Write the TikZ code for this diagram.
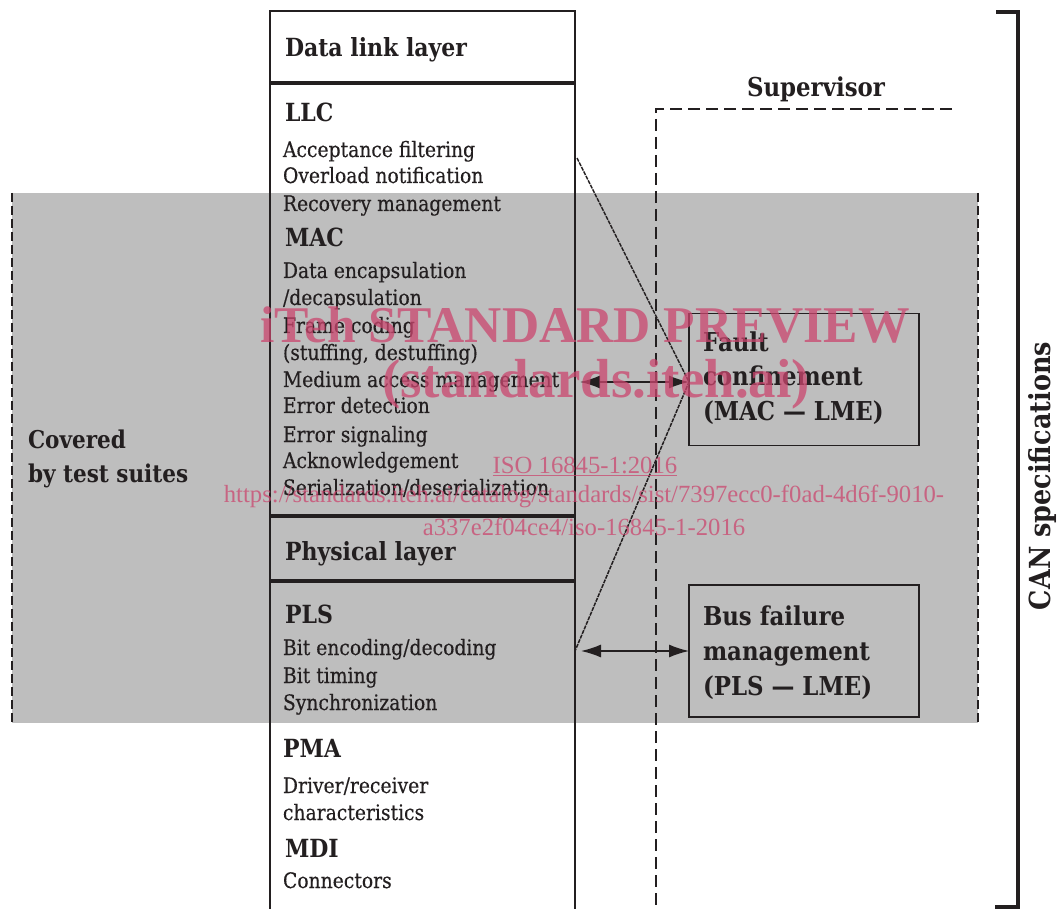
\documentclass[tikz,border=0pt]{standalone}
\usepackage{fontspec}
\setmainfont[FakeStretch=0.88, UprightFeatures={FakeBold=0.35}]{DejaVu Serif}
\newfontfamily\wmfont{Liberation Serif}
\usetikzlibrary{arrows.meta}
\definecolor{ink}{RGB}{35,31,32}
\definecolor{band}{RGB}{190,190,190}
\definecolor{wmc}{RGB}{203,70,110}
\begin{document}
\begin{tikzpicture}[x=1pt,y=-1pt,
  every node/.style={inner sep=0pt, outer sep=0pt, text=ink},
  item/.style={anchor=base west, font=\fontsize{21.3}{25}\selectfont},
  head/.style={anchor=base west, font=\bfseries\fontsize{25}{29}\selectfont},
  boxtxt/.style={anchor=base west, font=\bfseries\fontsize{26}{30}\selectfont},
  sidebox/.style={draw=ink, line width=1.6pt, minimum width=230pt, minimum height=132pt},
  colline/.style={draw=ink, line width=1.8pt},
  sepline/.style={draw=ink, line width=3.5pt},
  banddash/.style={draw=ink, line width=1.5pt, dash pattern=on 9pt off 4pt},
  supdash/.style={draw=ink, line width=1.5pt, dash pattern=on 12pt off 6pt},
  thinline/.style={draw=ink, line width=1.5pt, dash pattern=on 4pt off 1pt},
  biarrow/.style={draw=ink, line width=1.5pt, {Latex[length=20pt,width=13pt]}-{Latex[length=20pt,width=13pt]}},
  wm/.style={text=wmc, text opacity=0.75, anchor=base},
  wmbig/.style={wm, font=\wmfont\bfseries\fontsize{51.5}{51.5}\selectfont},
  wmsmall/.style={wm, font=\wmfont\fontsize{24.7}{25}\selectfont}
]
\useasboundingbox (0,0) rectangle (1058,909);

% covered-by-test-suites band
\fill[band] (12,193) rectangle (978,723);
\draw[banddash] (12,193) -- (12,723);
\draw[banddash] (978,193) -- (978,723);

% layer column
\coordinate (colTL) at (270,11);
\coordinate (colTR) at (575,11);
\coordinate (colBL) at (270,909);
\coordinate (colBR) at (575,909);
\draw[colline] (colBL) -- (colTL) -- (colTR) -- (colBR);
\draw[sepline] (270,83) -- (575,83);
\draw[sepline] (270,516) -- (575,516);
\draw[sepline] (270,581) -- (575,581);

% supervisor frame
\coordinate (supTR) at (952,109);
\coordinate (supTL) at (656,109);
\coordinate (supBL) at (656,909);
\draw[supdash] (supTR) -- (supTL) -- (supBL);
\node[anchor=base, font=\bfseries\fontsize{26}{30}\selectfont] (sup) at (816,97) {Supervisor};

% CAN specifications bracket
\coordinate (brT) at (996,12);
\coordinate (brB) at (995,907);
\draw[ink, line width=3.5pt] (brT) -| (1018,907) -- (brB);
\node[anchor=base, rotate=90, font=\bfseries\fontsize{29}{30}\selectfont] (can) at (1050,476) {CAN specifications};

% covered label
\node[head, font=\bfseries\fontsize{24.5}{29}\selectfont] (cov1) at (28,448) {Covered};
\node[head, font=\bfseries\fontsize{24.5}{29}\selectfont] (cov2) at (28,482) {by test suites};

% column texts
\node[head] (dll) at (285,57) {Data link layer};
\node[head] (llc) at (285,122) {LLC};
\node[item] (llc1) at (283,157) {Acceptance filtering};
\node[item] (llc2) at (283,183) {Overload notification};
\node[item] (llc3) at (283,211) {Recovery management};
\node[head] (mac) at (285,247) {MAC};
\node[item] (mac1) at (283,278) {Data encapsulation};
\node[item] (mac2) at (283,305) {/decapsulation};
\node[item] (mac3) at (283,333) {Frame coding};
\node[item] (mac4) at (283,360) {(stuffing, destuffing)};
\node[item] (mac5) at (283,387) {Medium access management};
\node[item] (mac6) at (283,413) {Error detection};
\node[item] (mac7) at (283,442) {Error signaling};
\node[item] (mac8) at (283,468) {Acknowledgement};
\node[item] (mac9) at (283,495) {Serialization/deserialization};
\node[head] (phy) at (285,560) {Physical layer};
\node[head] (pls) at (285,623) {PLS};
\node[item] (pls1) at (283,655) {Bit encoding/decoding};
\node[item] (pls2) at (283,683) {Bit timing};
\node[item] (pls3) at (283,710) {Synchronization};
\node[head] (pma) at (283,757) {PMA};
\node[item] (pma1) at (283,793) {Driver/receiver};
\node[item] (pma2) at (283,820) {characteristics};
\node[head] (mdi) at (285,857) {MDI};
\node[item] (mdi1) at (283,888) {Connectors};

% right boxes
\node[sidebox] (fault) at (804,379.5) {};
\node[boxtxt] (f1) at (703,352) {Fault};
\node[boxtxt] (f2) at (703,385) {confinement};
\node[boxtxt] (f3) at (703,420) {(MAC — LME)};
\node[sidebox] (bus) at (804,651) {};
\node[boxtxt] (b1) at (703,625) {Bus failure};
\node[boxtxt] (b2) at (703,660) {management};
\node[boxtxt] (b3) at (703,695) {(PLS — LME)};

% connectors
\coordinate (llcport) at (577,158);
\coordinate (macport) at (575,382);
\coordinate (faultport) at (689,382);
\coordinate (plsport) at (575,651);
\draw[thinline] (llcport) -- (faultport) -- (plsport);
\draw[biarrow, shorten <=5pt] (macport) -- (faultport);
\draw[biarrow, shorten <=6pt] (plsport) -- (bus.west);

% watermark
\node[wmbig] (wm1) at (585,343) {iTeh STANDARD PREVIEW};
\node[wmbig, font=\wmfont\bfseries\fontsize{55}{55}\selectfont] (wm2) at (596,397) {(standards.iteh.ai)};
\node[wmsmall] (wm3) at (585,473) {\underline{ISO 16845-1:2016}};
\node[wmsmall] (wm4) at (584,502) {https://standards.iteh.ai/catalog/standards/sist/7397ecc0-f0ad-4d6f-9010-};
\node[wmsmall] (wm5) at (584,535) {a337e2f04ce4/iso-16845-1-2016};
\end{tikzpicture}
\end{document}
